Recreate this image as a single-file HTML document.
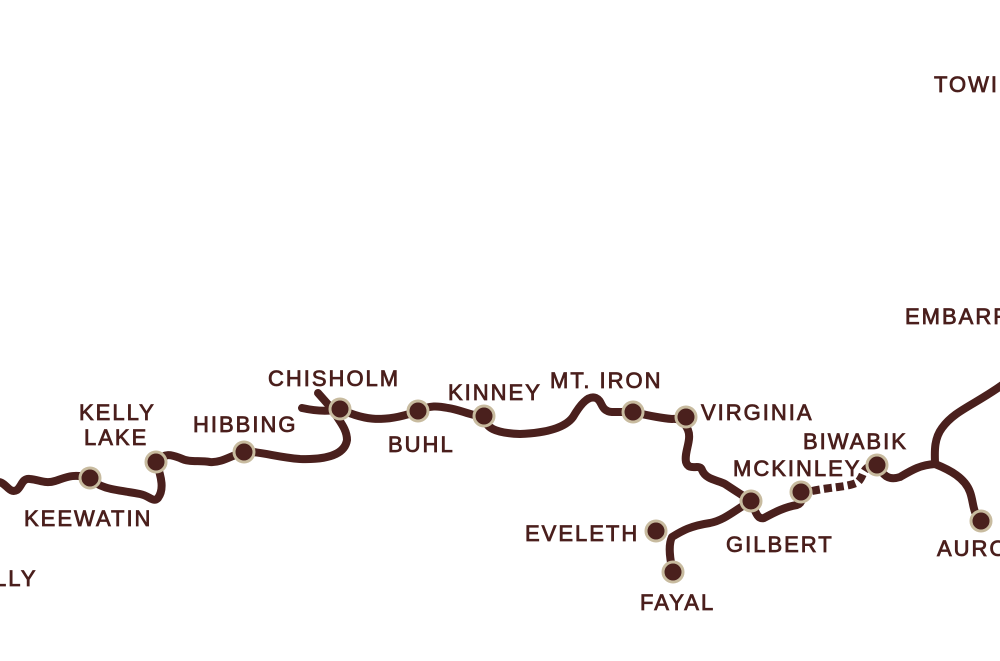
<!DOCTYPE html>
<html><head><meta charset="utf-8"><style>
html,body{margin:0;padding:0;background:#fff;width:1000px;height:661px;overflow:hidden}
text{font-family:"Liberation Sans",sans-serif;font-size:22px;font-weight:normal;fill:#4a1f1c;stroke:#4a1f1c;stroke-width:0.8;letter-spacing:2px}
</style></head><body>
<svg width="1000" height="661" viewBox="0 0 1000 661" xmlns="http://www.w3.org/2000/svg">
<g fill="none" stroke="#4a201d" stroke-width="8" stroke-linecap="round" stroke-linejoin="round">
<path d="M-5,483 C5,478 8,495 17,490 C22,486 22,478 30,479 C40,480 45,484 55,481 C65,478 72,473 90,478"/>
<path d="M90,478 C100,490 120,490 140,494 C150,496 153,503 158,498 C164,490 162,478 156,462"/>
<path d="M156,462 C165,452 172,455 180,458 C190,463 198,460 210,462 C222,463 232,455 244,452 C260,451 275,457 300,459 C330,460 345,453 347,440 C347,428 338,420 333,410"/>
<path d="M318,393 L333,410"/>
<path d="M302,408 C320,412 332,411 340,409 C360,418 380,425 418,411 C430,405 438,406 448,408 C462,410 470,416 484,416"/>
<path d="M484,416 C485,428 495,433 520,434 C545,433 565,428 573,417 C580,405 588,395 596,398 C603,401 600,411 612,412 L633,412 C650,416 660,418 672,419 C680,418 685,423 688,430 C692,440 684,452 686,462 C689,472 700,463 702,470 C706,480 718,480 725,484 C734,490 742,495 751,501"/>
<path d="M751,501 C735,510 725,520 710,523 C690,526 682,531 672,537 C668,545 670,560 673,572"/>
<path d="M751,501 C755,510 757,520 764,518 C775,512 785,507 797,505 C803,503 802,497 801,492"/>
<path d="M877,465 C883,475 888,481 900,477 C912,470 920,465 935,464 C935,455 933,440 942,428 C955,410 975,405 1005,383"/>
<path d="M935,464 C950,470 965,478 970,492 C974,503 972,512 981,521"/>
</g>
<path d="M812,491 C830,487 850,487 858,482 C864,476 862,470 870,466" fill="none" stroke="#4a201d" stroke-width="8" stroke-dasharray="8,4"/>
<g fill="#4a201d" stroke="#c8bb9f" stroke-width="3">
<circle cx="90" cy="478" r="10"/>
<circle cx="156" cy="462" r="10"/>
<circle cx="244" cy="452" r="10"/>
<circle cx="340" cy="409" r="10"/>
<circle cx="418" cy="411" r="10"/>
<circle cx="484" cy="416" r="10"/>
<circle cx="633" cy="412" r="10"/>
<circle cx="686" cy="417" r="10"/>
<circle cx="751" cy="501" r="10"/>
<circle cx="801" cy="492" r="10"/>
<circle cx="877" cy="465" r="10"/>
<circle cx="656" cy="531" r="10"/>
<circle cx="673" cy="572" r="10"/>
<circle cx="981" cy="521" r="10"/>
</g>
<text x="934" y="92">TOWI</text>
<text x="905" y="324">EMBARR</text>
<text x="268" y="386">CHISHOLM</text>
<text x="79" y="420">KELLY</text>
<text x="84" y="445">LAKE</text>
<text x="193" y="432">HIBBING</text>
<text x="24" y="526">KEEWATIN</text>
<text x="-6" y="586">LLY</text>
<text x="388" y="452">BUHL</text>
<text x="448" y="400">KINNEY</text>
<text x="550" y="388">MT. IRON</text>
<text x="701" y="420">VIRGINIA</text>
<text x="803" y="449">BIWABIK</text>
<text x="733" y="476">MCKINLEY</text>
<text x="525" y="541">EVELETH</text>
<text x="726" y="552">GILBERT</text>
<text x="640" y="610">FAYAL</text>
<text x="937" y="556">AURO</text>
</svg>
</body></html>
